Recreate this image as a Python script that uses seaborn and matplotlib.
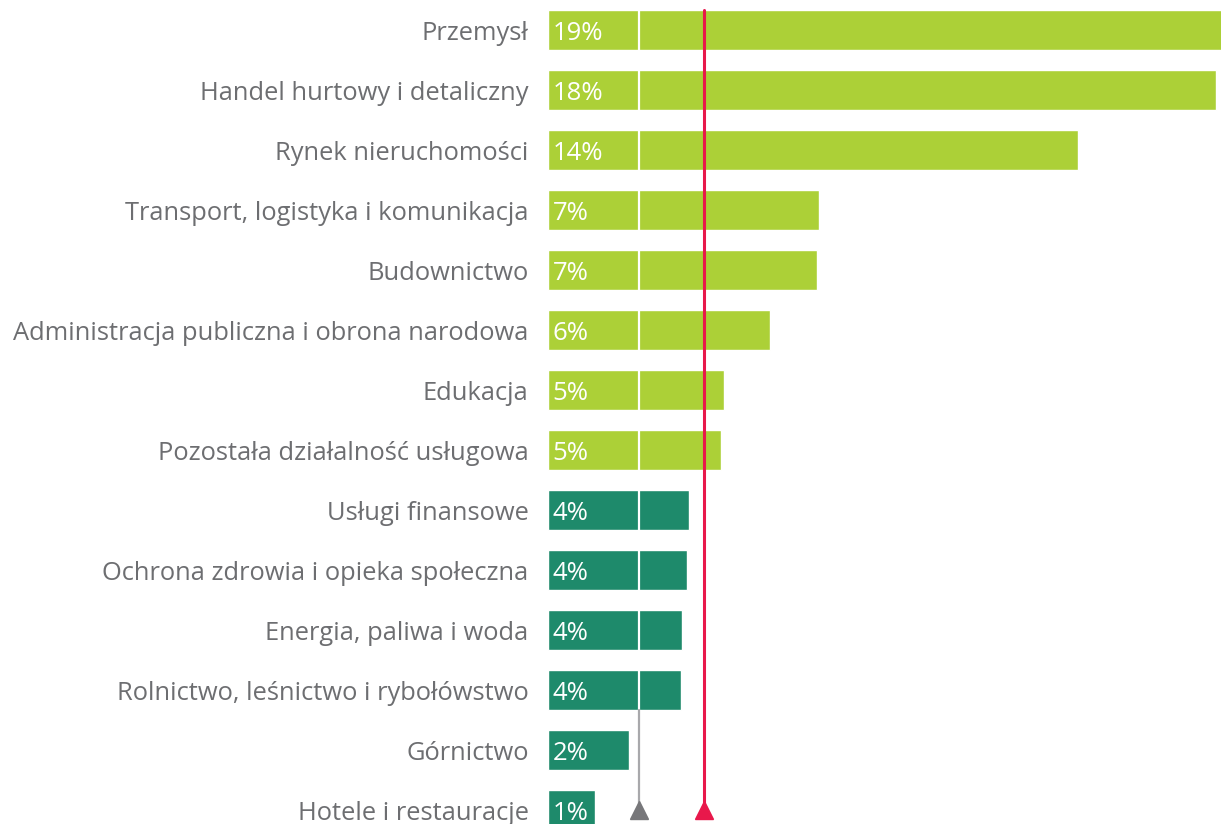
import matplotlib
matplotlib.use('Agg')
import matplotlib.pyplot as plt
import seaborn as sns
import pandas as pd

# dane (udział w %)
sectors = ['Przemysł', 'Handel hurtowy i detaliczny', 'Rynek nieruchomości',
           'Transport, logistyka i komunikacja', 'Budownictwo',
           'Administracja publiczna i obrona narodowa', 'Edukacja',
           'Pozostała działalność usługowa', 'Usługi finansowe',
           'Ochrona zdrowia i opieka społeczna', 'Energia, paliwa i woda',
           'Rolnictwo, leśnictwo i rybołówstwo', 'Górnictwo', 'Hotele i restauracje']
values = [19.0, 17.9, 14.2, 7.27, 7.2, 5.95, 4.72, 4.64, 3.78, 3.73, 3.59, 3.57, 2.17, 1.26]
labels = ['19%', '18%', '14%', '7%', '7%', '6%', '5%', '5%', '4%', '4%', '4%', '4%', '2%', '1%']
groups = ['top'] * 8 + ['bottom'] * 6
grey_ref = 2.44   # linia szara / biała
red_ref = 4.18    # linia czerwona

df = pd.DataFrame({'sector': sectors, 'value': values, 'group': groups})

sns.set_style('white')
plt.rcParams['font.family'] = ['Open Sans', 'DejaVu Sans']

fig = plt.figure(figsize=(12.21, 8.24), dpi=100)
ax = fig.add_axes([548 / 1221, 0, (1221 - 548) / 1221, 1])

sns.barplot(data=df, x='value', y='sector', hue='group', dodge=False, width=0.667,
            palette={'top': '#acd037', 'bottom': '#1e8a6b'}, legend=False,
            saturation=1, ax=ax)

ax.set_xlim(0, (1221 - 548) / 37.3)
ax.set_ylim(13.23, -0.5)

# etykiety procentowe w słupkach
for i, lab in enumerate(labels):
    ax.text(0.12, i + 0.06, lab, color='white', fontsize=18.5, va='center', ha='left', zorder=5)

# linie odniesienia
ax.plot([grey_ref, grey_ref], [-0.333, 11.333], color='white', lw=1.6, zorder=4)
ax.plot([grey_ref, grey_ref], [11.333, 12.95], color='#a8a8ab', lw=1.6, zorder=4)
ax.plot([grey_ref], [13.0], marker='^', ms=13, color='#77777a', clip_on=False, zorder=6)
ax.plot([red_ref, red_ref], [-0.333, 12.95], color='#e8184b', lw=2.2, zorder=4)
ax.plot([red_ref], [13.0], marker='^', ms=13, color='#e8184b', clip_on=False, zorder=6)

ax.set_xlabel('')
ax.set_ylabel('')
ax.set_xticks([])
ax.tick_params(axis='y', length=0, pad=14, labelsize=18.4, labelcolor='#6d6e71')
sns.despine(ax=ax, left=True, bottom=True)

fig.savefig('out.png', dpi=100)
